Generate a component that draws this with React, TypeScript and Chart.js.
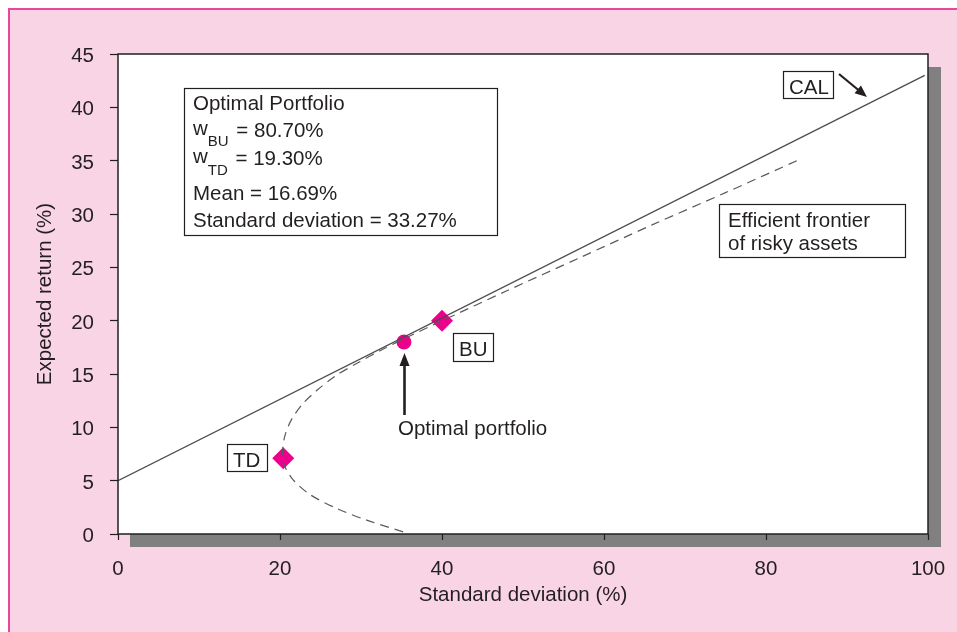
import React, { useEffect, useRef } from "react";
import { Chart, registerables } from "chart.js";

Chart.register(...registerables);

// ---- data ----
const xTickStep = 20;
const yTickStep = 5;
const xRange = [0, 100];
const yRange = [0, 45];

const calSigma = [0, 99.6];
const calReturn = [5, 43.0];

const frontierSigma = [35.2, 30.7, 27.0, 23.7, 21.6, 20.5, 20.3, 20.6, 21.4, 22.8, 24.6, 26.8, 29.5, 32.4, 35.3, 39.9, 48.0, 57.0, 66.0, 75.0, 84.4];
const frontierReturn = [0.2, 1.3, 2.4, 3.7, 5.1, 6.5, 7.6, 9.2, 10.7, 12.2, 13.5, 14.8, 16.0, 17.2, 18.3, 19.95, 22.8, 25.9, 29.0, 32.0, 35.2];

const assetNames = ["BU", "TD"];
const assetSigma = [40, 20.4];
const assetReturn = [20, 7.1];

const optimalSigma = [35.3];
const optimalReturn = [18.0];

const boxLines = ["Optimal Portfolio", "80.70%", "19.30%", "Mean = 16.69%", "Standard deviation = 33.27%"];

const FONT = '"Liberation Sans", Arial, Helvetica, sans-serif';
const INK = "#231F20";
const MAGENTA = "#EC008C";

function zip(xs: number[], ys: number[]) {
  return xs.map((x, i) => ({ x, y: ys[i] }));
}

function arrowHead(ctx: CanvasRenderingContext2D, x1: number, y1: number, x2: number, y2: number, len: number, half: number) {
  const a = Math.atan2(y2 - y1, x2 - x1);
  ctx.beginPath();
  ctx.moveTo(x2, y2);
  ctx.lineTo(x2 - len * Math.cos(a) + half * Math.sin(a), y2 - len * Math.sin(a) - half * Math.cos(a));
  ctx.lineTo(x2 - len * Math.cos(a) - half * Math.sin(a), y2 - len * Math.sin(a) + half * Math.cos(a));
  ctx.closePath();
  ctx.fill();
}

const framePlugin = {
  id: "frame",
  beforeDraw(chart: any) {
    const { ctx, chartArea: a } = chart;
    const w = a.right - a.left;
    ctx.save();
    ctx.fillStyle = "#808080";
    ctx.fillRect(a.left + 12, a.top + 13, w + 1, a.bottom - a.top);
    ctx.fillStyle = "#ffffff";
    ctx.fillRect(a.left, a.top, w, a.bottom - a.top);
    ctx.restore();
  },
  afterDatasetsDraw(chart: any) {
    const { ctx, chartArea: a } = chart;
    ctx.save();
    ctx.strokeStyle = INK;
    ctx.lineWidth = 1.5;
    ctx.strokeRect(a.left, a.top, a.right - a.left, a.bottom - a.top);
    ctx.restore();
  },
  afterDraw(chart: any) {
    const ctx: CanvasRenderingContext2D = chart.ctx;
    ctx.save();
    ctx.fillStyle = INK;
    ctx.strokeStyle = INK;
    ctx.textBaseline = "alphabetic";
    ctx.textAlign = "left";
    const main = `20.5px ${FONT}`;
    const sub = `15px ${FONT}`;

    const box = (x: number, y: number, w: number, h: number) => {
      ctx.fillStyle = "#ffffff";
      ctx.fillRect(x, y, w, h);
      ctx.lineWidth = 1.2;
      ctx.strokeStyle = INK;
      ctx.strokeRect(x + 0.5, y + 0.5, w, h);
      ctx.fillStyle = INK;
    };

    // Optimal portfolio box
    box(184, 88, 313, 147);
    ctx.font = main;
    ctx.fillText(boxLines[0], 193, 110);
    const wLine = (name: string, val: string, base: number, subBase: number) => {
      let x = 193;
      ctx.font = main;
      ctx.fillText("w", x, base - 2);
      x += ctx.measureText("w").width;
      ctx.font = sub;
      ctx.fillText(name, x, subBase);
      x += ctx.measureText(name).width;
      ctx.font = main;
      ctx.fillText(" = " + val, x + 2, base);
    };
    wLine("BU", boxLines[1], 137, 146);
    wLine("TD", boxLines[2], 165, 175);
    ctx.font = main;
    ctx.fillText(boxLines[3], 193, 200);
    ctx.fillText(boxLines[4], 193, 227);

    // Efficient frontier box
    box(719, 204, 186, 53);
    ctx.font = main;
    ctx.fillText("Efficient frontier", 728, 227);
    ctx.fillText("of risky assets", 728, 250);

    // CAL box + arrow
    box(783, 71, 50, 27);
    ctx.font = main;
    ctx.fillText("CAL", 789, 94);
    ctx.lineWidth = 2.2;
    ctx.beginPath();
    ctx.moveTo(839, 74);
    ctx.lineTo(859, 90.5);
    ctx.stroke();
    arrowHead(ctx, 839, 74, 867, 97, 12, 5);

    // BU / TD labels
    box(453, 333, 40, 28);
    ctx.font = main;
    ctx.fillText(assetNames[0], 459, 356);
    box(227, 444, 40, 27);
    ctx.font = main;
    ctx.fillText(assetNames[1], 233, 467);

    // Optimal portfolio arrow + text
    ctx.lineWidth = 2.6;
    ctx.beginPath();
    ctx.moveTo(404.5, 415);
    ctx.lineTo(404.5, 362);
    ctx.stroke();
    arrowHead(ctx, 404.5, 415, 404.5, 353, 13, 5);
    ctx.font = main;
    ctx.fillText("Optimal portfolio", 398, 435);
    ctx.restore();
  },
};

export default function App() {
  const ref = useRef<HTMLCanvasElement | null>(null);
  useEffect(() => {
    if (!ref.current) return;
    const tickFont = { family: FONT, size: 20.5 };
    const chart = new Chart(ref.current, {
      type: "scatter",
      data: {
        datasets: [
          {
            label: "CAL",
            data: zip(calSigma, calReturn),
            showLine: true,
            borderColor: "#4d4d4d",
            borderWidth: 1.3,
            pointRadius: 0,
          },
          {
            label: "Efficient frontier",
            data: zip(frontierSigma, frontierReturn),
            showLine: true,
            borderColor: "#5a5a5a",
            borderWidth: 1.2,
            borderDash: [9, 6],
            tension: 0.3,
            pointRadius: 0,
          },
          {
            label: "Assets",
            data: zip(assetSigma, assetReturn),
            pointStyle: "rectRot",
            pointRadius: 11,
            backgroundColor: MAGENTA,
            borderWidth: 0,
          },
          {
            label: "Optimal",
            data: zip(optimalSigma, optimalReturn),
            pointStyle: "circle",
            pointRadius: 7.5,
            backgroundColor: MAGENTA,
            borderWidth: 0,
          },
        ],
      },
      options: {
        animation: false,
        responsive: false,
        devicePixelRatio: 1,
        layout: { padding: { top: 54, right: 29, left: 0, bottom: 0 } },
        plugins: { legend: { display: false }, tooltip: { enabled: false } },
        scales: {
          x: {
            type: "linear",
            min: xRange[0],
            max: xRange[1],
            afterFit: (s: any) => {
              s.height = 98;
              s.paddingLeft = 0;
              s.paddingRight = 0;
            },
            ticks: { stepSize: xTickStep, font: tickFont, color: INK, padding: 17, maxRotation: 0 },
            grid: { drawOnChartArea: false, drawTicks: true, tickLength: 6, tickColor: INK, tickWidth: 1.2 },
            border: { display: false },
            title: {
              display: true,
              text: "Standard deviation (%)",
              font: tickFont,
              color: INK,
              padding: { top: 0, bottom: 24 },
            },
          },
          y: {
            type: "linear",
            min: yRange[0],
            max: yRange[1],
            afterFit: (s: any) => {
              s.width = 118;
              s.paddingTop = 0;
              s.paddingBottom = 0;
            },
            ticks: { stepSize: yTickStep, font: tickFont, color: INK, padding: 16, labelOffset: 2.5 },
            grid: { drawOnChartArea: false, drawTicks: true, tickLength: 8, tickColor: INK, tickWidth: 1.2 },
            border: { display: false },
            title: {
              display: true,
              text: "Expected return (%)",
              font: tickFont,
              color: INK,
              padding: { top: 33, bottom: 0 },
            },
          },
        },
      },
      plugins: [framePlugin],
    } as any);
    return () => chart.destroy();
  }, []);

  return (
    <>
      <div
        style={{
          position: "fixed",
          left: 8,
          top: 8,
          right: 0,
          bottom: 0,
          background: "#F8D4E4",
          borderLeft: "2px solid #E8479B",
          borderTop: "2px solid #E8479B",
          boxSizing: "border-box",
        }}
      />
      <canvas
        ref={ref}
        width={957}
        height={632}
        style={{ position: "fixed", left: 0, top: 0, width: 957, height: 632 }}
      />
    </>
  );
}
